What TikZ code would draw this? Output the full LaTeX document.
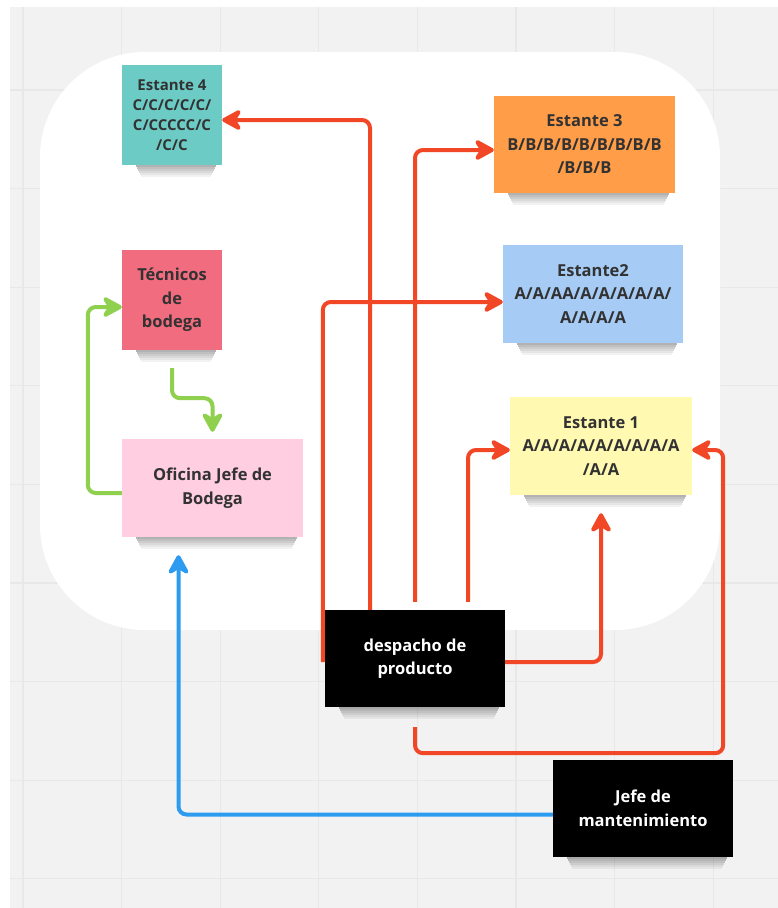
\documentclass[tikz,border=0pt]{standalone}
\usepackage{fontspec}
\setmainfont{Open Sans}
\usetikzlibrary{arrows.meta}
\definecolor{mygray1}{RGB}{242, 242, 242}
\definecolor{mygray2}{RGB}{232, 232, 232}
\definecolor{myteal}{RGB}{108, 203, 196}
\definecolor{myorange}{RGB}{255, 157, 72}
\definecolor{myblue}{RGB}{166, 204, 245}
\definecolor{myyellow}{RGB}{255, 249, 177}
\definecolor{myrose}{RGB}{241, 108, 127}
\definecolor{mypink}{RGB}{255, 206, 224}
\definecolor{myred}{RGB}{242, 71, 38}
\definecolor{mygreen}{RGB}{143, 209, 79}
\definecolor{myline}{RGB}{45, 155, 240}
\definecolor{mytext}{RGB}{50, 50, 50}

\begin{document}
\begin{tikzpicture}[x = 1pt, y = -1pt,
sticky/.style = {inner sep = 0, align = center, text = mytext, font = \fontsize{16.5}{23.5}\selectfont\bfseries},
link/.style = {line width = 4, rounded corners = 8pt, -{Stealth[length = 24pt, width = 26pt, inset = 8pt, round]}}]
\useasboundingbox (0, 0) rectangle (778, 908);

% board
\fill[mygray1] (10, 7) rectangle (778, 908);
\foreach \x in {0, ..., 7}{
\draw[mygray2, line width = 1.2] ({23 + 98.6*\x}, 7) -- ({23 + 98.6*\x}, 908);
}
\foreach \y in {0, ..., 8}{
\draw[mygray2, line width = 1.2] (10, {90 + 98.6*\y}) -- (778, {90 + 98.6*\y});
}
\fill[white, rounded corners = 105pt] (40, 52) rectangle (720, 630);

% stickies
\node[sticky, fill = myteal, minimum width = 100, minimum height = 100, font = \fontsize{15}{20}\selectfont\bfseries] (e4) at (172, 115) {Estante 4\\C/C/C/C/C/\\C/CCCCC/C\\/C/C};
\node[sticky, fill = myorange, minimum width = 181, minimum height = 97] (e3) at (584.5, 144.5) {Estante 3\\B/B/B/B/B/B/B/B/B\\/B/B/B};
\node[sticky, fill = myblue, minimum width = 180, minimum height = 98] (e2) at (593, 294) {Estante2\\A/A/AA/A/A/A/A/A/\\A/A/A/A};
\node[sticky, fill = myyellow, minimum width = 182, minimum height = 98] (e1) at (601, 446) {Estante 1\\A/A/A/A/A/A/A/A/A\\/A/A};
\node[sticky, fill = myrose, minimum width = 100, minimum height = 100] (tec) at (172, 300) {Técnicos\\de\\bodega};
\node[sticky, fill = mypink, minimum width = 181, minimum height = 98] (ofi) at (212.5, 488) {Oficina Jefe de\\Bodega};
\node[sticky, fill = black, text = white, minimum width = 180, minimum height = 97] (des) at (415, 658.5) {despacho de\\producto};
\node[sticky, fill = black, text = white, minimum width = 180, minimum height = 97] (jef) at (643, 808.5) {Jefe de\\mantenimiento};

% soft shadows
\foreach \n in {e4, e3, e2, e1, tec, ofi, des, jef}{
\foreach \i in {0, ..., 5}{
\fill[black, opacity = {0.3 - 0.05*\i}] ([xshift = {14 + \i}, yshift = {-2*\i}]\n.south west) rectangle ([xshift = {-6 - \i}, yshift = {-2*\i - 2}]\n.south east);
}
}

% connectors
\draw[link, myred] ([xshift = -45pt]des.north) |- ([yshift = -5pt]e4.east);
\draw[link, myred] ([yshift = 8pt]des.north) |- ([yshift = -5.5pt]e3.west);
\draw[link, myred] ([xshift = -2pt, yshift = -3.5pt]des.west) |- ([yshift = -8pt]e2.west);
\draw[link, myred] ([xshift = 53pt, yshift = 8pt]des.north) |- ([yshift = -4pt]e1.west);
\draw[link, myred] ([yshift = -3.5pt]des.east) -| ([yshift = -18pt]e1.south);
\draw[link, myred] ([yshift = -20pt]des.south) -- ++(0, 26) -| ([xshift = 31pt, yshift = -4pt]e1.east) -- ([yshift = -4pt]e1.east);
\draw[link, mygreen] ([yshift = -5pt]ofi.west) -- ++(-34, 0) |- ([yshift = -7pt]tec.west);
\draw[link, mygreen] ([yshift = -18pt]tec.south) -- ++(0, 30) -| ([yshift = 7pt]ofi.north);
\draw[link, myline] ([yshift = -6pt]jef.west) -| ([xshift = -34pt, yshift = -18pt]ofi.south);
\end{tikzpicture}
\end{document}
